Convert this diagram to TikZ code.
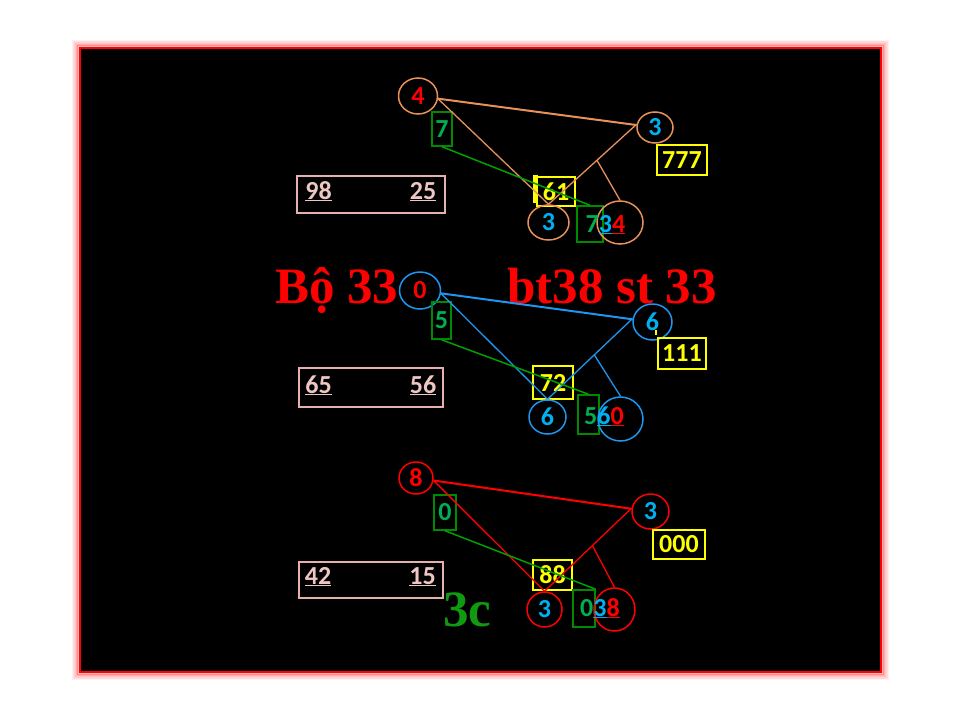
\documentclass[tikz,border=0pt]{standalone}
\usepackage{fontspec}
\setmainfont{Liberation Serif}
\newfontfamily\digf{Carlito}
\usetikzlibrary{shapes.geometric,calc}
\definecolor{orC}{HTML}{E8925A}
\definecolor{blC}{HTML}{1E96F0}
\definecolor{bluT}{HTML}{00B0F0}
\definecolor{grT}{HTML}{00B050}
\definecolor{grR}{HTML}{008A00}
\definecolor{grL}{HTML}{00A000}
\definecolor{yel}{HTML}{FFFF00}
\definecolor{pinkB}{HTML}{E6B0AE}
\definecolor{pinkT}{HTML}{EEC6C4}
\definecolor{bigG}{HTML}{109A10}
\tikzset{
  dig/.style={font=\digf\bfseries\fontsize{26}{26}\selectfont},
  circ/.style={ellipse, draw, line width=1.5pt, inner sep=0pt, dig},
  grect/.style={rectangle, draw=grR, line width=1.5pt, inner sep=0pt, dig, text=grT},
  ybox/.style={rectangle, draw=yel, line width=2.5pt, inner sep=0pt, dig, text=yel},
  pbox/.style={rectangle, draw=pinkB, line width=2.5pt, inner sep=0pt},
  ptext/.style={dig, text=pinkT, anchor=base, inner sep=0pt},
  utext/.style={dig, anchor=base, inner sep=0pt},
  big/.style={font=\bfseries\fontsize{51}{51}\selectfont, anchor=base west, inner sep=0pt},
  topline/.style={line width=2pt},
  vline/.style={line width=1.3pt},
  gline/.style={line width=1.5pt, draw=grL},
}
\begin{document}
\begin{tikzpicture}[x=1pt,y=-1pt]
\fill[white] (0,0) rectangle (960,720);
\useasboundingbox (0,0) rectangle (960,720);
% frame with glow
\foreach \i/\o in {7/0.06,6/0.08,5/0.1,4/0.14,3/0.2,2/0.3} {
  \draw[red, opacity=\o, line width=2pt] (80-\i,48-\i) rectangle (881+\i,672+\i);
}
\fill[black] (80,48) rectangle (881,672);
\draw[red, line width=2pt] (80,48) rectangle (881,672);

% big texts
\node[big, text=red] (bo) at (275,303) {Bộ 33};
\node[big, text=red] (bt) at (507,303) {bt38 st 33};
\node[big, text=bigG] (c3c) at (443,626) {3c};

% pink boxes
\node[pbox, minimum width=148pt, minimum height=37pt] (p1) at (371,194.5) {};
\node[ptext] (p1a) at (318.5,199) {\underline{98}};
\node[ptext] (p1b) at (423,199) {\underline{25}};
\node[pbox, minimum width=144pt, minimum height=39pt] (p2) at (371,387.5) {};
\node[ptext] (p2a) at (318.5,393) {\underline{65}};
\node[ptext] (p2b) at (423,393) {\underline{56}};
\node[pbox, minimum width=144pt, minimum height=36pt] (p3) at (371,580) {};
\node[ptext] (p3a) at (318,584) {\underline{42}};
\node[ptext] (p3b) at (422.5,584) {\underline{15}};

% ---------- group 1 (orange) ----------
\node[circ, draw=orC, minimum width=39pt, minimum height=36pt, text=red] (a1) at (418,96) {4};
\node[grect, minimum width=20pt, minimum height=34pt] (s1) at (442,129) {7};
\node[circ, draw=orC, minimum width=36pt, minimum height=31pt, text=bluT] (b1) at (655,127.5) {3};
\node[ybox, minimum width=50pt, minimum height=30pt] (y1) at (682,160) {777};
\node[ybox, minimum width=38pt, minimum height=29pt] (k1) at (556,191.5) {61};
\node[fill=yel, minimum width=5pt, minimum height=28pt, inner sep=0pt] (kb1) at (535.5,189) {};
\node[circ, draw=orC, minimum width=41pt, minimum height=35pt, text=bluT] (c1) at (548.5,222.5) {3};
\node[grect, minimum width=26pt, minimum height=36pt] (h1) at (590,224) {};
\node[circ, draw=orC, minimum width=46pt, minimum height=43pt] (d1) at (620,222.5) {};
\node[utext] (t1) at (605.5,232) {{\color{grT}7}{\color{bluT}\underline{3}}{\color{red}\underline{4}}};
\draw[topline, orC] (a1) -- (b1);
\draw[vline, orC] (a1.-8) -- (c1.north);
\draw[vline, orC] (b1.170) -- (c1.north);
\coordinate (m1) at ($(b1.170)!0.45!(c1.north)$);
\draw[vline, orC] (m1) -- (d1.north);
\draw[gline] (s1.south) -- (h1.north);

% ---------- group 2 (blue) ----------
\node[circ, draw=blC, minimum width=41pt, minimum height=37pt, text=red] (a2) at (420,290.5) {0};
\node[grect, minimum width=19pt, minimum height=37pt] (s2) at (441.5,320.5) {5};
\node[circ, draw=blC, minimum width=39pt, minimum height=36pt, text=bluT] (b2) at (652.5,322) {6};
\node[fill=yel, minimum width=2pt, minimum height=5pt, inner sep=0pt] (tk2) at (656,332.5) {};
\node[ybox, minimum width=48pt, minimum height=31pt] (y2) at (682,353.5) {111};
\node[ybox, minimum width=40pt, minimum height=33pt] (k2) at (553,382.5) {72};
\node[circ, draw=blC, minimum width=37pt, minimum height=34pt, text=bluT] (c2) at (547.5,417) {6};
\node[grect, minimum width=21pt, minimum height=39pt] (h2) at (588.5,414.5) {};
\node[circ, draw=blC, minimum width=45pt, minimum height=44pt] (d2) at (620.5,419) {};
\node[utext] (t2) at (604,424) {{\color{grT}5}{\color{bluT}\underline{6}}{\color{red}\underline{0}}};
\draw[topline, blC] (a2) -- (b2);
\draw[vline, blC] (a2.-8) -- (c2.north);
\draw[vline, blC] (b2.170) -- (c2.north);
\coordinate (m2) at ($(b2.170)!0.45!(c2.north)$);
\draw[vline, blC] (m2) -- (d2.north);
\draw[gline] (s2.south) -- (h2.north);

% ---------- group 3 (red) ----------
\node[circ, draw=red, minimum width=34pt, minimum height=32pt, text=red] (a3) at (416,478) {8};
\node[grect, minimum width=22pt, minimum height=35pt] (s3) at (445,512.5) {0};
\node[circ, draw=red, minimum width=37pt, minimum height=35pt, text=bluT] (b3) at (650.5,511.5) {3};
\node[ybox, minimum width=52pt, minimum height=29pt] (y3) at (679,544.5) {000};
\node[ybox, minimum width=39pt, minimum height=30pt] (k3) at (552.5,575) {88};
\node[circ, draw=red, minimum width=35pt, minimum height=35pt, text=bluT] (c3) at (544.5,609.5) {3};
\node[grect, minimum width=22pt, minimum height=37pt] (h3) at (584,608.5) {};
\node[circ, draw=red, minimum width=41pt, minimum height=43pt] (d3) at (614.5,609.5) {};
\node[utext] (t3) at (600,616) {{\color{grT}0}{\color{bluT}\underline{3}}{\color{red}\underline{8}}};
\draw[topline, red] (a3) -- (b3);
\draw[vline, red] (a3.-8) -- (c3.north);
\draw[vline, red] (b3.170) -- (c3.north);
\coordinate (m3) at ($(b3.170)!0.45!(c3.north)$);
\draw[vline, red] (m3) -- (d3.north);
\draw[gline] (s3.south) -- (h3.north east);
\end{tikzpicture}
\end{document}
